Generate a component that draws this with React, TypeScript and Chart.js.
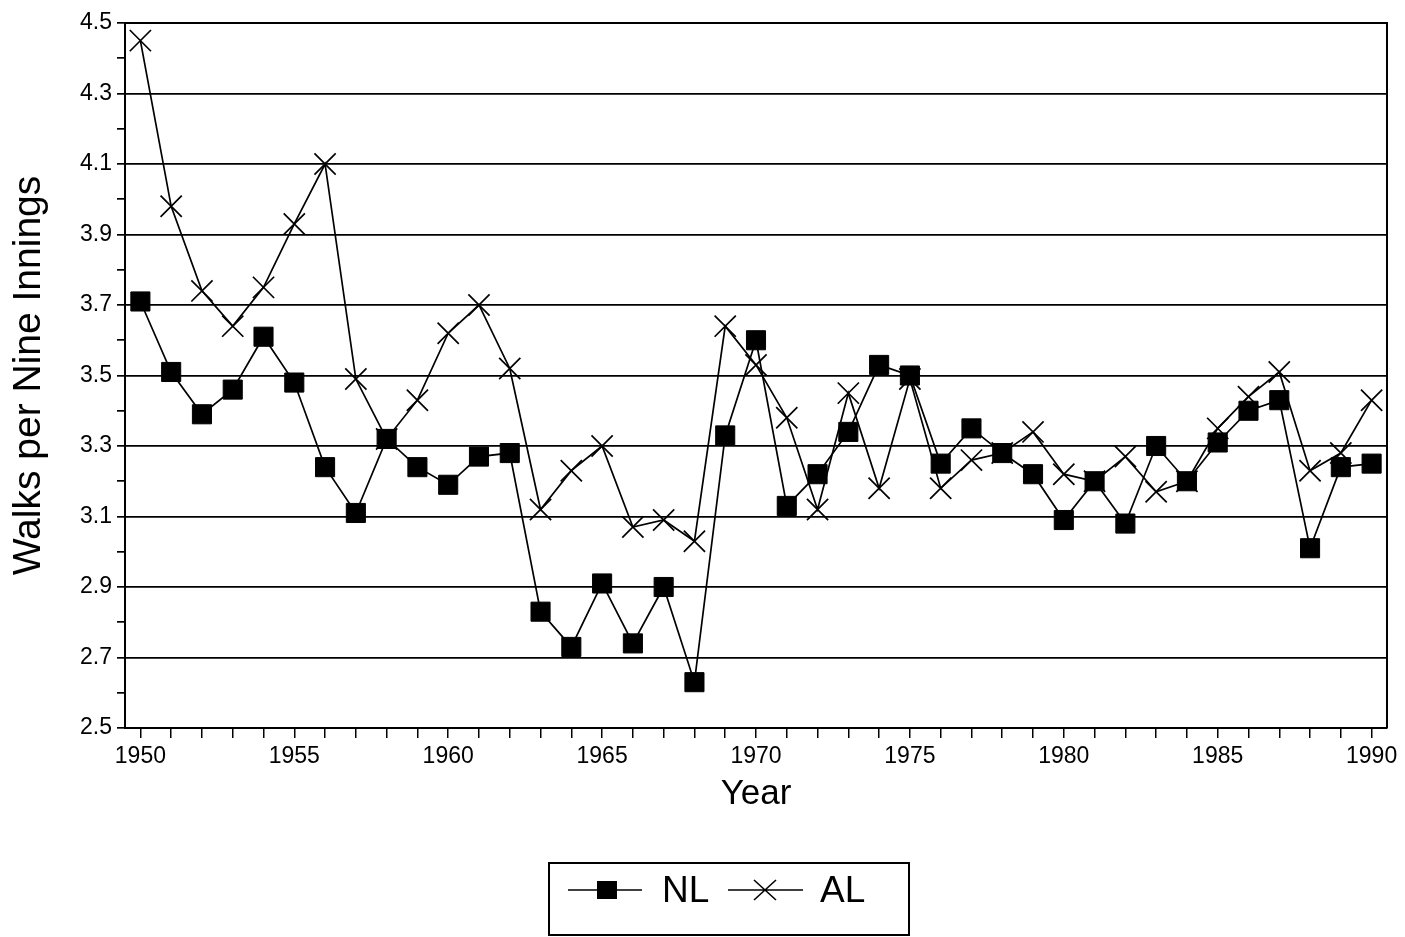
import React, { useEffect, useRef } from "react";
import { Chart, registerables } from "chart.js";

Chart.register(...registerables);

const years = [
  1950, 1951, 1952, 1953, 1954, 1955, 1956, 1957, 1958, 1959,
  1960, 1961, 1962, 1963, 1964, 1965, 1966, 1967, 1968, 1969,
  1970, 1971, 1972, 1973, 1974, 1975, 1976, 1977, 1978, 1979,
  1980, 1981, 1982, 1983, 1984, 1985, 1986, 1987, 1988, 1989, 1990,
];

const nlWalks = [
  3.71, 3.51, 3.39, 3.46, 3.61, 3.48, 3.24, 3.11, 3.32, 3.24,
  3.19, 3.27, 3.28, 2.83, 2.73, 2.91, 2.74, 2.9, 2.63, 3.33,
  3.6, 3.13, 3.22, 3.34, 3.53, 3.5, 3.25, 3.35, 3.28, 3.22,
  3.09, 3.2, 3.08, 3.3, 3.2, 3.31, 3.4, 3.43, 3.01, 3.24, 3.25,
];

const alWalks = [
  4.45, 3.98, 3.74, 3.64, 3.75, 3.93, 4.1, 3.49, 3.32, 3.43,
  3.62, 3.7, 3.52, 3.12, 3.23, 3.3, 3.07, 3.09, 3.03, 3.64,
  3.53, 3.38, 3.12, 3.45, 3.18, 3.49, 3.18, 3.26, 3.28, 3.34,
  3.22, 3.2, 3.27, 3.17, 3.2, 3.35, 3.44, 3.51, 3.23, 3.28, 3.43,
];

const seriesLabels = ["NL", "AL"];
const xTitle = "Year";
const yTitle = "Walks per Nine Innings";
const xMin = 1949.5;
const xMax = 1990.5;
const yMin = 2.5;
const yMax = 4.5;

const FONT = "'Liberation Sans', Arial, Helvetica, sans-serif";

const isMajor = (v: number) => Math.round(v * 10) % 2 === 1;

const framePlugin = {
  id: "frameAndLegend",
  afterDraw(chart: any) {
    const { ctx, chartArea } = chart;
    ctx.save();
    ctx.strokeStyle = "#000";
    ctx.lineWidth = 2;
    ctx.beginPath();
    ctx.moveTo(chartArea.left, chartArea.top);
    ctx.lineTo(chartArea.right, chartArea.top);
    ctx.lineTo(chartArea.right, chartArea.bottom);
    ctx.stroke();

    // legend box
    const bx = 549, by = 863, bw = 360, bh = 72;
    ctx.lineWidth = 2;
    ctx.strokeRect(bx, by, bw, bh);
    const ly = by + 27;
    ctx.font = `37px ${FONT}`;
    ctx.fillStyle = "#000";
    ctx.textBaseline = "middle";
    ctx.textAlign = "left";
    // NL entry
    ctx.lineWidth = 1.6;
    ctx.beginPath();
    ctx.moveTo(568, ly);
    ctx.lineTo(642, ly);
    ctx.stroke();
    ctx.fillRect(607 - 10, ly - 9, 20, 18);
    ctx.fillText(chart.data.datasets[0].label, 662, ly + 2);
    // AL entry
    ctx.beginPath();
    ctx.moveTo(728, ly);
    ctx.lineTo(803, ly);
    ctx.moveTo(765 - 11, ly - 10);
    ctx.lineTo(765 + 11, ly + 10);
    ctx.moveTo(765 + 11, ly - 10);
    ctx.lineTo(765 - 11, ly + 10);
    ctx.stroke();
    ctx.fillText(chart.data.datasets[1].label, 820, ly + 2);
    ctx.restore();
  },
};

export default function App() {
  const canvasRef = useRef<HTMLCanvasElement | null>(null);

  useEffect(() => {
    if (!canvasRef.current) return;
    const chart = new Chart(canvasRef.current, {
      type: "line",
      data: {
        datasets: [
          {
            label: seriesLabels[0],
            data: years.map((yr, i) => ({ x: yr, y: nlWalks[i] })),
            borderColor: "#000",
            backgroundColor: "#000",
            borderWidth: 1.7,
            pointStyle: "rect",
            pointRadius: 13.5,
            pointBorderWidth: 1,
            pointBorderColor: "#000",
            pointBackgroundColor: "#000",
            tension: 0,
          },
          {
            label: seriesLabels[1],
            data: years.map((yr, i) => ({ x: yr, y: alWalks[i] })),
            borderColor: "#000",
            backgroundColor: "#000",
            borderWidth: 1.7,
            pointStyle: "crossRot",
            pointRadius: 15,
            pointBorderWidth: 1.7,
            pointBorderColor: "#000",
            tension: 0,
          },
        ],
      },
      options: {
        animation: false,
        responsive: true,
        maintainAspectRatio: false,
        layout: { padding: { top: 23, right: 18, bottom: 122, left: 0 } },
        plugins: {
          legend: { display: false },
          tooltip: { enabled: false },
        },
        scales: {
          x: {
            type: "linear",
            min: xMin,
            max: xMax,
            afterBuildTicks: (scale: any) => {
              scale.ticks = years.map((v) => ({ value: v }));
            },
            afterFit: (scale: any) => {
              scale.height = 87;
              scale.paddingLeft = 0;
              scale.paddingRight = 0;
            },
            ticks: {
              autoSkip: false,
              maxRotation: 0,
              padding: 5,
              color: "#000",
              font: { family: FONT, size: 23 },
              callback: (v: any) => (Number(v) % 5 === 0 ? String(v) : ""),
            },
            grid: {
              drawOnChartArea: false,
              drawTicks: true,
              tickLength: 10,
              color: "#000",
              lineWidth: 1.5,
            },
            border: { display: true, color: "#000", width: 2 },
            title: {
              display: true,
              text: xTitle,
              color: "#000",
              font: { family: FONT, size: 35 },
              padding: { top: 0, bottom: 0 },
            },
          },
          y: {
            type: "linear",
            min: yMin,
            max: yMax,
            afterFit: (scale: any) => {
              scale.width = 125;
              scale.paddingTop = 0;
              scale.paddingBottom = 0;
            },
            ticks: {
              stepSize: 0.1,
              autoSkip: false,
              padding: 5,
              color: "#000",
              font: { family: FONT, size: 23 },
              callback: (v: any) => (isMajor(Number(v)) ? Number(v).toFixed(1) : ""),
            },
            grid: {
              drawOnChartArea: true,
              drawTicks: true,
              tickLength: 8,
              lineWidth: 1.7,
              color: (c: any) =>
                c.tick && isMajor(c.tick.value) ? "#000" : "rgba(0,0,0,0)",
              tickColor: "#000",
            },
            border: { display: true, color: "#000", width: 2 },
            title: {
              display: true,
              text: yTitle,
              color: "#000",
              font: { family: FONT, size: 39 },
              padding: { top: 6, bottom: 0 },
            },
          },
        },
      },
      plugins: [framePlugin],
    });
    return () => chart.destroy();
  }, []);

  return (
    <div style={{ position: "fixed", left: 0, top: 0, width: 1405, height: 937, background: "#fff" }}>
      <canvas ref={canvasRef} />
    </div>
  );
}
